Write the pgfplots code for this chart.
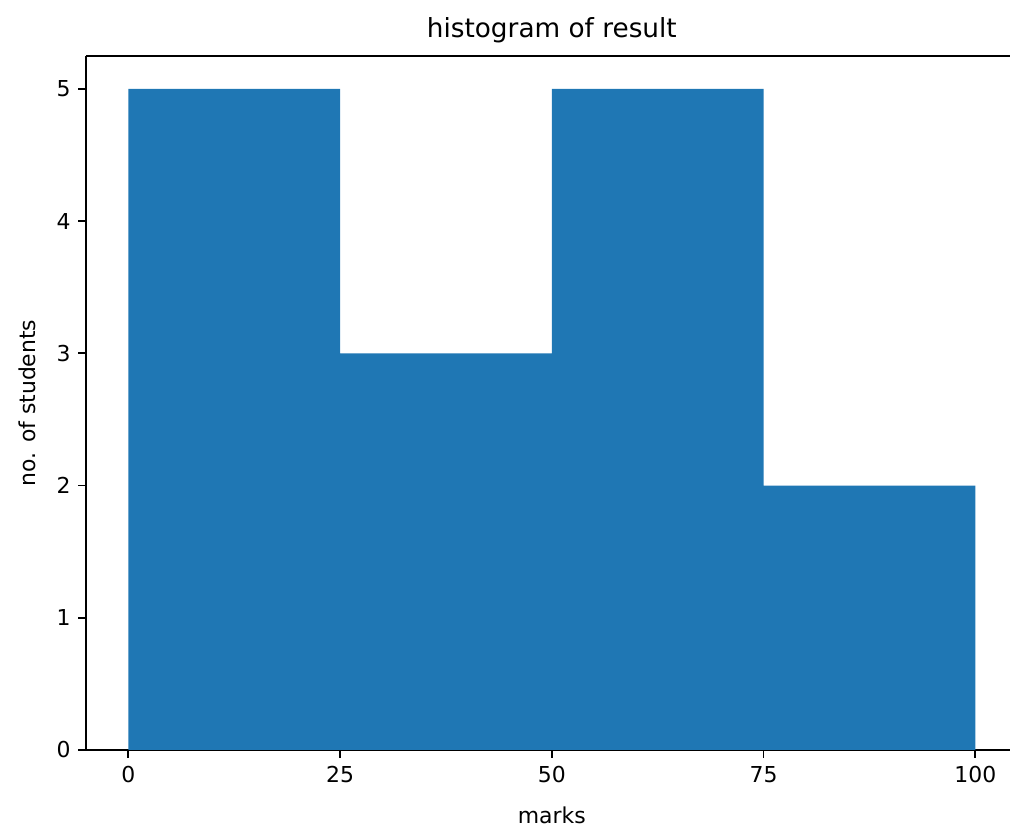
\documentclass[border=0pt]{standalone}
\usepackage{pgfplots}
\pgfplotsset{compat=1.18}
\usepackage{fontspec}
\setmainfont{DejaVu Sans}
\definecolor{mplblue}{HTML}{1F77B4}
\begin{document}
\begin{tikzpicture}
\begin{axis}[
  scale only axis,
  width=424.9pt, height=316.5pt,
  xmin=-5, xmax=105, ymin=0, ymax=5.25,
  axis y line*=left,
  axis x line=box,
  xtick={0,25,50,75,100},
  ytick={0,1,2,3,4,5},
  tick align=outside,
  major tick length=3.5pt,
  every tick/.style={black, line width=0.8pt},
  axis line style={line width=0.8pt},
  xtick pos=bottom, ytick pos=left,
  tick label style={font=\fontsize{10}{12}\selectfont},
  /pgf/number format/assume math mode=true,
  xticklabel style={yshift=-0.5pt},
  title={histogram of result},
  title style={font=\fontsize{12}{14}\selectfont, yshift=-3.6pt},
  xlabel={marks},
  ylabel={no. of students},
  label style={font=\fontsize{10}{12}\selectfont},
  xlabel style={yshift=-4pt},
  ylabel style={yshift=2.5pt},
  clip=false,
]
\addplot[fill=mplblue, draw=none, ybar interval] coordinates {(0,5) (25,3) (50,5) (75,2) (100,2)};
\coordinate (O) at (rel axis cs:0,0);
\end{axis}
\pgfresetboundingbox
\useasboundingbox ([shift={(-39.2pt,-35.1pt)}]O) rectangle ++(460.6pt,377.1pt);
\end{tikzpicture}
\end{document}
